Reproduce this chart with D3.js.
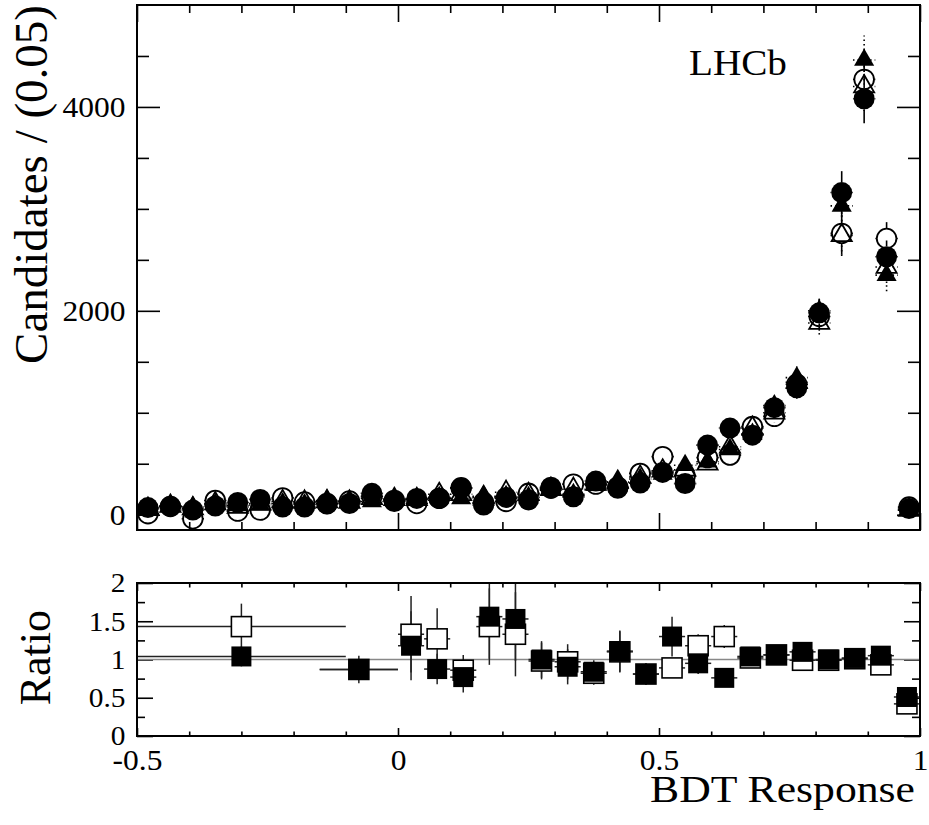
<!DOCTYPE html>
<html><head><meta charset="utf-8">
<script src="https://cdn.jsdelivr.net/npm/d3@7"></script>
<style>body{margin:0;background:#fff}svg{display:block}</style>
</head><body>
<svg id="c" width="929" height="825"></svg>
<script>
// ---------- data ----------
const binCenters = [-0.479,-0.436,-0.393,-0.350,-0.307,-0.264,-0.221,-0.179,-0.136,-0.093,-0.050,-0.007,0.036,0.079,0.121,0.164,0.207,0.250,0.293,0.336,0.379,0.421,0.464,0.507,0.550,0.593,0.636,0.679,0.721,0.764,0.807,0.850,0.893,0.936,0.979];
const binHalfWidth = 0.0214;
const openCircle    = [10,80,-40,140,35,45,165,125,110,135,180,140,110,160,265,120,130,210,260,300,300,270,405,570,380,560,585,865,965,1280,1945,2760,4270,2710,75];
const filledCircle  = [70,80,45,85,120,150,75,75,105,110,210,130,160,160,260,95,170,145,270,175,330,260,310,415,305,683,850,780,1050,1245,1980,3160,4080,2530,60];
const openTriangle  = [55,85,60,110,75,110,130,125,130,125,160,150,150,200,200,170,220,200,250,250,300,320,370,430,440,500,666,850,1000,1300,1880,2740,4200,2430,45];
const filledTriangle= [65,80,75,100,90,95,110,100,140,130,130,150,150,170,160,180,180,170,240,200,290,320,350,400,485,520,640,790,1070,1345,2000,3030,4460,2350,45];
const errCounts     = [35,35,35,40,35,40,40,40,40,40,45,40,40,45,50,40,45,45,50,50,55,55,60,70,60,80,90,90,100,110,140,210,240,160,30];

const ratioX         = [-0.3,-0.075,0.025,0.075,0.125,0.175,0.225,0.275,0.325,0.375,0.425,0.475,0.525,0.575,0.625,0.675,0.725,0.775,0.825,0.875,0.925,0.975];
const ratioXErr      = [0.2,0.075,0.025,0.025,0.025,0.025,0.025,0.025,0.025,0.025,0.025,0.025,0.025,0.025,0.025,0.025,0.025,0.025,0.025,0.025,0.025,0.025];
const ratioOpen      = [1.43,0.87,1.33,1.27,0.86,1.43,1.33,0.98,0.97,0.82,1.10,0.81,0.89,1.18,1.30,1.02,1.06,0.99,0.99,1.01,0.93,0.42];
const ratioOpenErr   = [0.30,0.12,0.50,0.40,0.20,0.50,0.55,0.24,0.23,0.15,0.27,0.14,0.08,0.15,0.15,0.07,0.06,0.06,0.05,0.05,0.07,0.12];
const ratioFilled    = [1.04,0.87,1.18,0.875,0.77,1.56,1.53,1.00,0.905,0.84,1.11,0.81,1.30,0.95,0.76,1.04,1.06,1.10,1.00,1.02,1.05,0.51];
const ratioFilledErr = [0.13,0.18,0.45,0.20,0.20,0.55,0.55,0.24,0.23,0.15,0.27,0.14,0.26,0.14,0.08,0.07,0.06,0.06,0.05,0.05,0.07,0.12];

const xMajorTicks = [-0.5,0,0.5,1];
const xMinorTicks = [-0.4,-0.3,-0.2,-0.1,0.1,0.2,0.3,0.4,0.6,0.7,0.8,0.9];
const yMajorTicks = [0,2000,4000];
const yMinorTicks = [500,1000,1500,2500,3000,3500,4500];
const rMajorTicks = [0,0.5,1,1.5,2];
const rMinorTicks = [0.25,0.75,1.25,1.75];

// ---------- layout ----------
const FONT = "'Liberation Serif','Times New Roman',serif";
const SX = 1.05;
const svg = d3.select("#c");
const L = 137, R = 920;
const x = d3.scaleLinear().domain([-0.5,1]).range([L,R]);
const y = d3.scaleLinear().domain([-150,5000]).range([530,5]);
const yr = d3.scaleLinear().domain([0,2]).range([736,583]);

function cleanAxis(g){ g.select(".domain").remove(); g.selectAll("line").attr("stroke","#000").attr("stroke-width",1.6); }
function styleText(g, size){ g.selectAll("text").attr("font-family",FONT).attr("font-size",size).attr("fill","#000").attr("transform",`scale(${SX},1)`); }

// ---- top panel axes ----
svg.append("g").attr("transform",`translate(0,530)`).call(d3.axisTop(x).tickValues(xMajorTicks).tickSize(17).tickFormat("")).call(cleanAxis);
svg.append("g").attr("transform",`translate(0,530)`).call(d3.axisTop(x).tickValues(xMinorTicks).tickSize(8).tickFormat("")).call(cleanAxis);
svg.append("g").attr("transform",`translate(0,5)`).call(d3.axisBottom(x).tickValues(xMajorTicks).tickSize(17).tickFormat("")).call(cleanAxis);
svg.append("g").attr("transform",`translate(0,5)`).call(d3.axisBottom(x).tickValues(xMinorTicks).tickSize(8).tickFormat("")).call(cleanAxis);
const gl = svg.append("g").attr("transform",`translate(${L},0)`).call(d3.axisLeft(y).tickValues(yMajorTicks).tickSize(-23).tickPadding(11).tickFormat(d=>String(d))).call(cleanAxis);
styleText(gl,30);
svg.append("g").attr("transform",`translate(${L},0)`).call(d3.axisLeft(y).tickValues(yMinorTicks).tickSize(-12).tickFormat("")).call(cleanAxis);
svg.append("g").attr("transform",`translate(${R},0)`).call(d3.axisRight(y).tickValues(yMajorTicks).tickSize(-23).tickFormat("")).call(cleanAxis);
svg.append("g").attr("transform",`translate(${R},0)`).call(d3.axisRight(y).tickValues(yMinorTicks).tickSize(-12).tickFormat("")).call(cleanAxis);

// clip
const defs = svg.append("defs");
defs.append("clipPath").attr("id","clipTop").append("rect").attr("x",L).attr("y",5).attr("width",R-L).attr("height",525);
defs.append("clipPath").attr("id","clipRat").append("rect").attr("x",L).attr("y",583).attr("width",R-L).attr("height",153);

// ---- top panel data ----
const gTop = svg.append("g").attr("clip-path","url(#clipTop)");
const idx = d3.range(binCenters.length);
const triSym = d3.symbol().type(d3.symbolTriangle).size(175);

// error bars drawn outside the marker only (gapV/gapH in px)
function errBars(g, vals, dashed, gapV, gapH){
  const s = g.append("g").attr("stroke","#000").attr("stroke-width",1.6).attr("stroke-dasharray",dashed?"1.5,3":null);
  const cx = i=>x(binCenters[i]), cy = i=>y(vals[i]);
  s.selectAll("line.u").data(idx.filter(i=>y(vals[i])-y(vals[i]+errCounts[i])>gapV)).join("line").attr("class","u")
    .attr("x1",cx).attr("x2",cx).attr("y1",i=>cy(i)-gapV).attr("y2",i=>y(vals[i]+errCounts[i]));
  s.selectAll("line.d").data(idx.filter(i=>y(vals[i]-errCounts[i])-y(vals[i])>gapV)).join("line").attr("class","d")
    .attr("x1",cx).attr("x2",cx).attr("y1",i=>cy(i)+gapV).attr("y2",i=>y(vals[i]-errCounts[i]));
  s.selectAll("line.l").data(idx).join("line").attr("class","l")
    .attr("x1",i=>x(binCenters[i]-binHalfWidth)).attr("x2",i=>cx(i)-gapH).attr("y1",cy).attr("y2",cy);
  s.selectAll("line.r").data(idx).join("line").attr("class","r")
    .attr("x1",i=>cx(i)+gapH).attr("x2",i=>x(binCenters[i]+binHalfWidth)).attr("y1",cy).attr("y2",cy);
}
errBars(gTop, openTriangle, true, 10, 6);
errBars(gTop, filledTriangle, true, 10, 6);
errBars(gTop, openCircle, false, 10, 10);
errBars(gTop, filledCircle, false, 10.5, 10.5);

gTop.append("g").selectAll("circle").data(idx).join("circle")
  .attr("cx",i=>x(binCenters[i])).attr("cy",i=>y(openCircle[i])).attr("r",9.8)
  .attr("fill","none").attr("stroke","#000").attr("stroke-width",1.8);
gTop.append("g").selectAll("path").data(idx).join("path")
  .attr("transform",i=>`translate(${x(binCenters[i])},${y(openTriangle[i])})`).attr("d",triSym)
  .attr("fill","none").attr("stroke","#000").attr("stroke-width",1.8);
gTop.append("g").selectAll("path").data(idx).join("path")
  .attr("transform",i=>`translate(${x(binCenters[i])},${y(filledTriangle[i])})`).attr("d",triSym)
  .attr("fill","#000");
gTop.append("g").selectAll("circle").data(idx).join("circle")
  .attr("cx",i=>x(binCenters[i])).attr("cy",i=>y(filledCircle[i])).attr("r",10.5)
  .attr("fill","#000");

svg.append("rect").attr("x",L).attr("y",5).attr("width",R-L).attr("height",525)
  .attr("fill","none").attr("stroke","#000").attr("stroke-width",2);

// ---- ratio panel axes ----
svg.append("g").attr("transform",`translate(0,583)`).call(d3.axisBottom(x).tickValues(xMajorTicks).tickSize(8).tickFormat("")).call(cleanAxis);
svg.append("g").attr("transform",`translate(0,583)`).call(d3.axisBottom(x).tickValues(xMinorTicks).tickSize(4.5).tickFormat("")).call(cleanAxis);
const gxb = svg.append("g").attr("transform",`translate(0,736)`).call(d3.axisBottom(x).tickValues(xMajorTicks).tickSize(-8).tickPadding(13).tickFormat(d=>String(d))).call(cleanAxis);
styleText(gxb,30);
svg.append("g").attr("transform",`translate(0,736)`).call(d3.axisBottom(x).tickValues(xMinorTicks).tickSize(-4.5).tickFormat("")).call(cleanAxis);
const gyl = svg.append("g").attr("transform",`translate(${L},0)`).call(d3.axisLeft(yr).tickValues(rMajorTicks).tickSize(-16).tickPadding(11).tickFormat(d=>String(d))).call(cleanAxis);
styleText(gyl,28);
svg.append("g").attr("transform",`translate(${L},0)`).call(d3.axisLeft(yr).tickValues(rMinorTicks).tickSize(-8).tickFormat("")).call(cleanAxis);
svg.append("g").attr("transform",`translate(${R},0)`).call(d3.axisRight(yr).tickValues(rMajorTicks).tickSize(-16).tickFormat("")).call(cleanAxis);
svg.append("g").attr("transform",`translate(${R},0)`).call(d3.axisRight(yr).tickValues(rMinorTicks).tickSize(-8).tickFormat("")).call(cleanAxis);

// ---- ratio data ----
const gR = svg.append("g").attr("clip-path","url(#clipRat)");
gR.append("line").attr("x1",L).attr("x2",R).attr("y1",yr(1)).attr("y2",yr(1)).attr("stroke","#888").attr("stroke-width",1.5);
const ridx = d3.range(ratioX.length);
function rErr(vals, errs){
  const s = gR.append("g").attr("stroke","#222").attr("stroke-width",1.5);
  s.selectAll("line.v").data(ridx).join("line").attr("class","v")
    .attr("x1",i=>x(ratioX[i])).attr("x2",i=>x(ratioX[i]))
    .attr("y1",i=>yr(vals[i]-errs[i])).attr("y2",i=>yr(vals[i]+errs[i]));
  s.selectAll("line.h").data(ridx).join("line").attr("class","h")
    .attr("x1",i=>x(ratioX[i]-ratioXErr[i])).attr("x2",i=>x(ratioX[i]+ratioXErr[i]))
    .attr("y1",i=>yr(vals[i])).attr("y2",i=>yr(vals[i]));
}
rErr(ratioOpen, ratioOpenErr);
rErr(ratioFilled, ratioFilledErr);
const SQ = 20;
gR.append("g").selectAll("rect").data(ridx).join("rect")
  .attr("x",i=>x(ratioX[i])-SQ/2).attr("y",i=>yr(ratioOpen[i])-SQ/2).attr("width",SQ).attr("height",SQ)
  .attr("fill","#fff").attr("stroke","#000").attr("stroke-width",1.6);
gR.append("g").selectAll("rect").data(ridx).join("rect")
  .attr("x",i=>x(ratioX[i])-SQ/2).attr("y",i=>yr(ratioFilled[i])-SQ/2).attr("width",SQ).attr("height",SQ)
  .attr("fill","#000");

svg.append("rect").attr("x",L).attr("y",583).attr("width",R-L).attr("height",153)
  .attr("fill","none").attr("stroke","#000").attr("stroke-width",2);

// ---- titles ----
function stretchedText(tx, ty, txt, size, anchor, sx){
  svg.append("g").attr("transform",`translate(${tx},${ty}) scale(${sx},1)`)
    .append("text").attr("font-family",FONT).attr("font-size",size).attr("text-anchor",anchor).attr("fill","#000").text(txt);
}
stretchedText(915, 802, "BDT Response", 38, "end", 1.15);
stretchedText(689, 75, "LHCb", 35, "start", 1.12);
svg.append("text").attr("transform","translate(47,5) rotate(-90)").attr("text-anchor","end")
  .attr("font-family",FONT).attr("font-size",47).attr("fill","#000").text("Candidates / (0.05)");
svg.append("text").attr("transform","translate(50,610) rotate(-90)").attr("text-anchor","end")
  .attr("font-family",FONT).attr("font-size",44).attr("fill","#000").text("Ratio");
</script>
</body></html>
